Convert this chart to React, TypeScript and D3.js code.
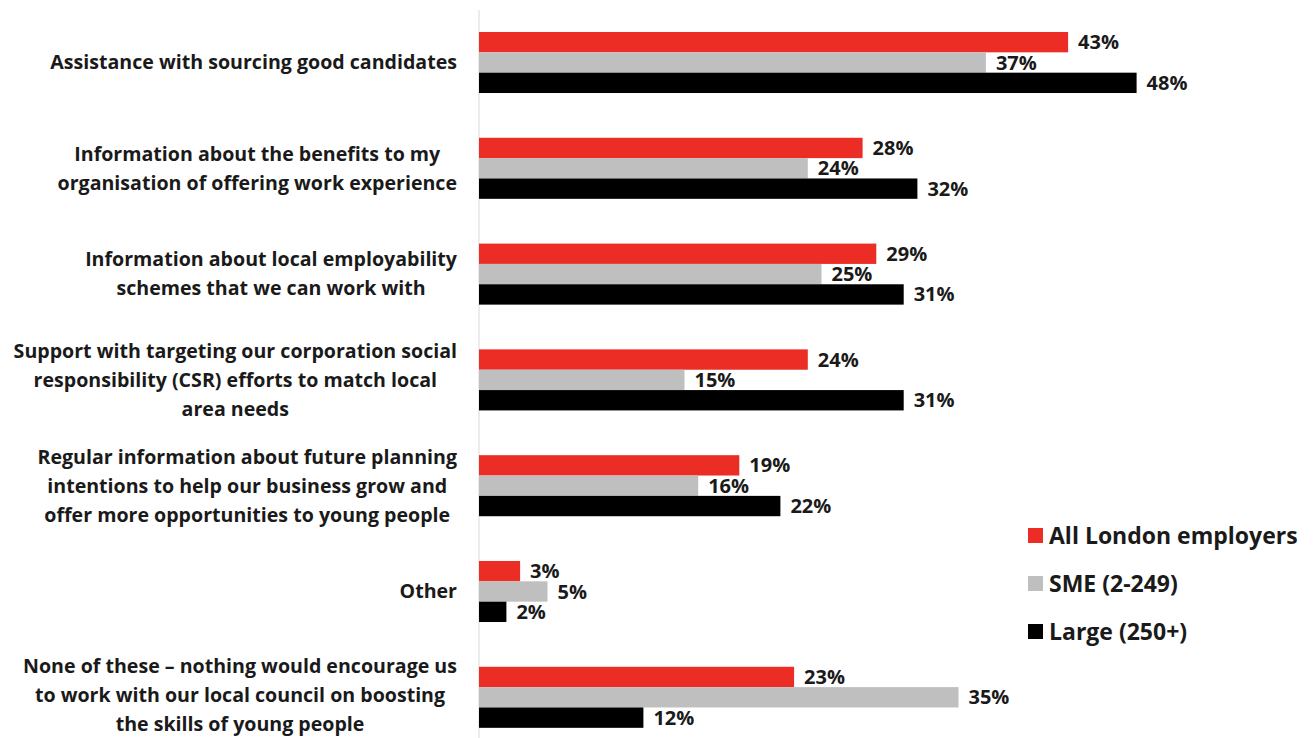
import React, { useEffect, useRef } from "react";
import * as d3 from "d3";

const categories: string[][] = [
  ["Assistance with sourcing good candidates"],
  ["Information about the benefits to my", "organisation of offering work experience"],
  ["Information about local employability", "schemes that we can work with"],
  ["Support with targeting our corporation social", "responsibility (CSR) efforts to match local", "area needs"],
  ["Regular information about future planning", "intentions to help our business grow and", "offer more opportunities to young people"],
  ["Other"],
  ["None of these \u2013 nothing would encourage us", "to work with our local council on boosting", "the skills of young people"],
];
const seriesNames = ["All London employers", "SME (2-249)", "Large (250+)"];
const seriesColors = ["#EC2D26", "#BFBFBF", "#000000"];
const allLondon = [43, 28, 29, 24, 19, 3, 23];
const sme = [37, 24, 25, 15, 16, 5, 35];
const large = [48, 32, 31, 31, 22, 2, 12];

const W = 1314;
const H = 738;
const FONT = "'Open Sans', sans-serif";

export default function App() {
  const ref = useRef<SVGSVGElement | null>(null);
  useEffect(() => {
    const svg = d3.select(ref.current);
    svg.selectAll("*").remove();
    const values = [allLondon, sme, large];
    const x = d3.scaleLinear().domain([0, 50]).range([479, 479 + 50 * 13.7]);
    const y = d3
      .scaleBand<number>()
      .domain(d3.range(categories.length))
      .range([9.6, 750.2])
      .paddingInner(0.423)
      .paddingOuter(0.2115);
    const ys = d3.scaleBand<number>().domain([0, 1, 2]).range([0, y.bandwidth()]);

    svg
      .append("line")
      .attr("x1", x(0))
      .attr("x2", x(0))
      .attr("y1", 10)
      .attr("y2", H)
      .attr("stroke", "#D9D9D9")
      .attr("stroke-width", 1);

    values.forEach((vals, si) => {
      const g = svg.append("g");
      g.selectAll("rect")
        .data(vals)
        .join("rect")
        .attr("x", x(0))
        .attr("y", (_d, i) => (y(i) as number) + (ys(si) as number))
        .attr("width", (d) => x(d) - x(0))
        .attr("height", ys.bandwidth())
        .attr("fill", seriesColors[si]);
      g.selectAll("text")
        .data(vals)
        .join("text")
        .attr("x", (d) => x(d) + 10)
        .attr("y", (_d, i) => (y(i) as number) + (ys(si) as number) + ys.bandwidth() / 2)
        .attr("dy", "0.35em")
        .attr("font-family", FONT)
        .attr("font-weight", 700)
        .attr("font-size", 20)
        .attr("fill", "#1a1a1a")
        .text((d) => `${d}%`);
    });

    const lineH = 29;
    categories.forEach((lines, i) => {
      let cy = (y(i) as number) + y.bandwidth() / 2;
      const lastY = cy + ((lines.length - 1) / 2) * lineH;
      if (lastY > H - 14) cy -= lastY - (H - 14);
      const g = svg.append("g");
      const texts = lines.map((ln, j) =>
        g
          .append("text")
          .attr("y", cy + (j - (lines.length - 1) / 2) * lineH)
          .attr("dy", "0.35em")
          .attr("text-anchor", "middle")
          .attr("font-family", FONT)
          .attr("font-weight", 700)
          .attr("font-size", 19.6)
          .attr("fill", "#1a1a1a")
          .text(ln)
      );
      const widths = texts.map((t) => (t.node() as SVGTextElement).getComputedTextLength());
      const maxW = d3.max(widths) || 0;
      const right = 457;
      texts.forEach((t) => t.attr("x", right - maxW / 2));
    });

    const legend = svg.append("g");
    seriesNames.forEach((name, i) => {
      const ly = 535.5 + i * 48;
      legend
        .append("rect")
        .attr("x", 1028)
        .attr("y", ly - 7.5)
        .attr("width", 15)
        .attr("height", 15)
        .attr("fill", seriesColors[i]);
      legend
        .append("text")
        .attr("x", 1049)
        .attr("y", ly)
        .attr("dy", "0.35em")
        .attr("font-family", FONT)
        .attr("font-weight", 700)
        .attr("font-size", 23)
        .attr("fill", "#1a1a1a")
        .text(name);
    });
  }, []);
  return (
    <svg
      ref={ref}
      width={W}
      height={H}
      style={{ position: "absolute", left: 0, top: 0, background: "#fff" }}
    />
  );
}
